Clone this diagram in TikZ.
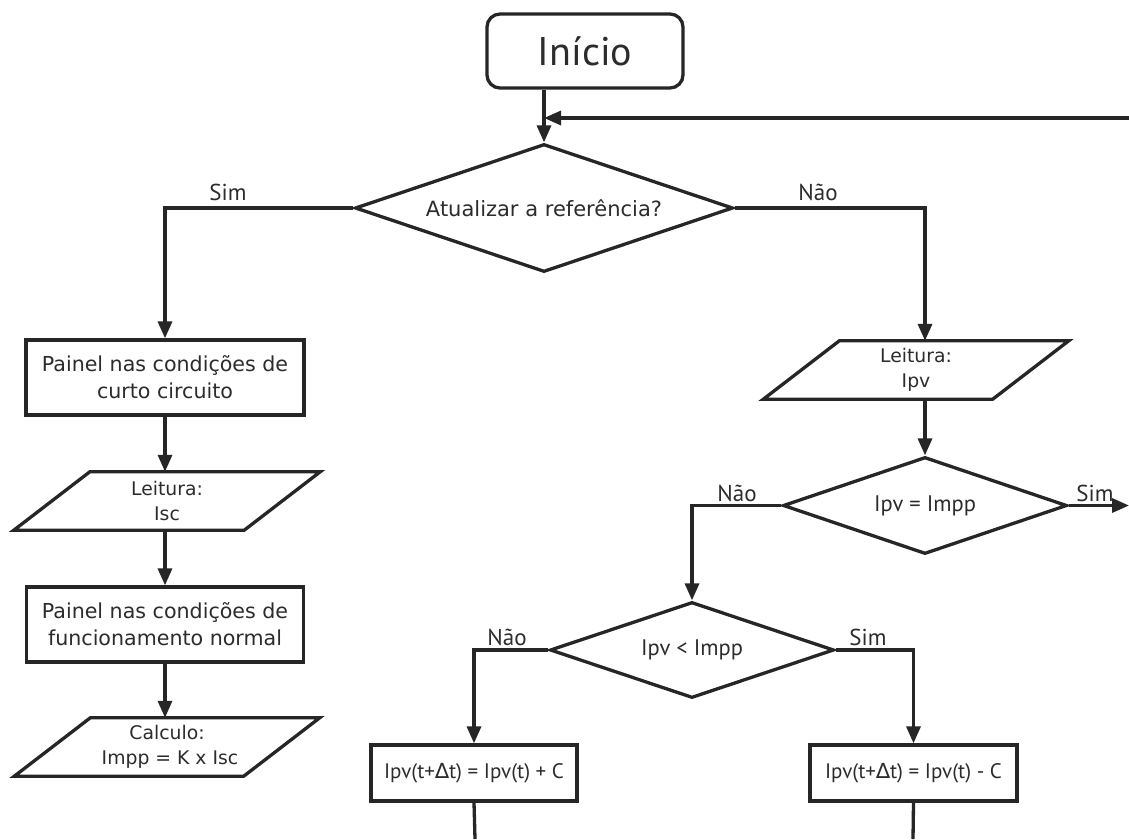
\documentclass[tikz,border=0pt]{standalone}
\usepackage{fontspec}
\setmainfont{DejaVu Sans}
\newfontfamily\narrowfont{PT Sans}
\newfontfamily\symfont{DejaVu Sans}
\usetikzlibrary{shapes.geometric,arrows.meta}
\definecolor{ink}{HTML}{262626}
\definecolor{txt}{HTML}{2C2C2C}
\newcommand{\dlt}{{\symfont\char"2206}}

\begin{document}
\begin{tikzpicture}[x=1pt,y=-1pt,
  flow/.style={draw=ink, line width=3.3pt, -{Triangle[length=17pt,width=14pt]}},
  plain/.style={draw=ink, line width=3.3pt},
  box/.style={draw=ink, line width=3.3pt, rectangle, inner sep=0pt, align=center,
    text=txt, font=\fontsize{20.6}{27}\selectfont},
  smallbox/.style={box, font=\narrowfont\fontsize{21}{24}\selectfont},
  startbox/.style={box, rounded corners=13pt, font=\narrowfont\fontsize{40}{44}\selectfont},
  decision/.style={draw=ink, line width=3.3pt, diamond, aspect=3, inner sep=0pt,
    text=txt, font=\narrowfont\fontsize{22.5}{26}\selectfont},
  bigdecision/.style={decision, font=\fontsize{21}{26}\selectfont},
  iobody/.style={rectangle, inner sep=0pt, align=center, text=txt,
    minimum height=58pt, font=\fontsize{18.8}{25}\selectfont},
  lbl/.style={text=txt, inner sep=0pt, font=\narrowfont\fontsize{23}{26}\selectfont},
  ioedge/.style={draw=ink, line width=3.3pt, line join=miter}
]
\useasboundingbox[fill=white] (0,0) rectangle (1129,839);

% start and first decision
\node[startbox, minimum width=196pt, minimum height=74pt] (start) at (585,51) {Início};
\node[bigdecision, minimum width=378pt, minimum height=128pt] (d1) at (544,208) {Atualizar a referência?};

% left column: reference update
\node[box, minimum width=278pt, minimum height=75pt] (b1) at (165,377.5)
  {Painel nas condições de\\curto circuito};
\node[iobody, minimum width=230pt] (isc) at (167,501) {Leitura:\\Isc};
\node[box, minimum width=277pt, minimum height=75pt] (b2) at (165,624.5)
  {Painel nas condições de\\funcionamento normal};
\node[iobody, minimum width=229pt] (calc) at (167,747) {Calculo:\\\ Impp = K x Isc};

% right column: tracking
\node[iobody, minimum width=229pt] (ipv) at (916,370) {Leitura:\\Ipv};
\node[decision, minimum width=284pt, minimum height=97pt] (d2) at (925,505.5) {Ipv = Impp};
\node[decision, minimum width=284pt, minimum height=96pt] (d3) at (692,650) {Ipv < Impp};
\node[smallbox, minimum width=206pt, minimum height=56pt] (bp) at (474,773)
  {Ipv(t+\dlt t) = Ipv(t) + C};
\node[smallbox, minimum width=207pt, minimum height=56pt] (bm) at (913.5,773)
  {Ipv(t+\dlt t) = Ipv(t) - C};

% parallelogram outlines of the input/output blocks
\foreach \n in {isc,calc,ipv}{
  \draw[ioedge] ([xshift=38pt]\n.north west) -- ([xshift=38pt]\n.north east)
    -- ([xshift=-38pt]\n.south east) -- ([xshift=-38pt]\n.south west) -- cycle;
}

% free ends of connectors
\coordinate (loopin) at (1129,118);
\coordinate (simout) at (1129,505.5);
\coordinate (endp) at (475,839);
\coordinate (endm) at (913,839);

% connectors
\draw[flow] (start.south -| d1.north) -- (d1.north);
\draw[flow] (loopin) -- (loopin -| d1.north);
\draw[flow] (d1.west) -| (b1.north);
\draw[flow] (b1.south) -- (b1.south |- isc.north);
\draw[flow] (b1.south |- isc.south) -- (b2.north);
\draw[flow] (b2.south) -- (b2.south |- calc.north);
\draw[flow] (d1.east) -| (ipv.north -| d2.north);
\draw[flow] (ipv.south -| d2.north) -- (d2.north);
\draw[flow] (d2.east) -- (simout);
\draw[flow] (d2.west) -| (d3.north);
\draw[flow] (d3.west) -| (bp.north);
\draw[flow] (d3.east) -| (bm.north);
\draw[plain] (bp.south) -- (endp);
\draw[plain] (bm.south) -- (endm);

% branch labels
\node[lbl] (l1) at (228,192) {Sim};
\node[lbl] (l2) at (818,192) {Não};
\node[lbl] (l3) at (737,493) {Não};
\node[lbl] (l4) at (1095,493) {Sim};
\node[lbl] (l5) at (507,637) {Não};
\node[lbl] (l6) at (868,637) {Sim};
\end{tikzpicture}
\end{document}
